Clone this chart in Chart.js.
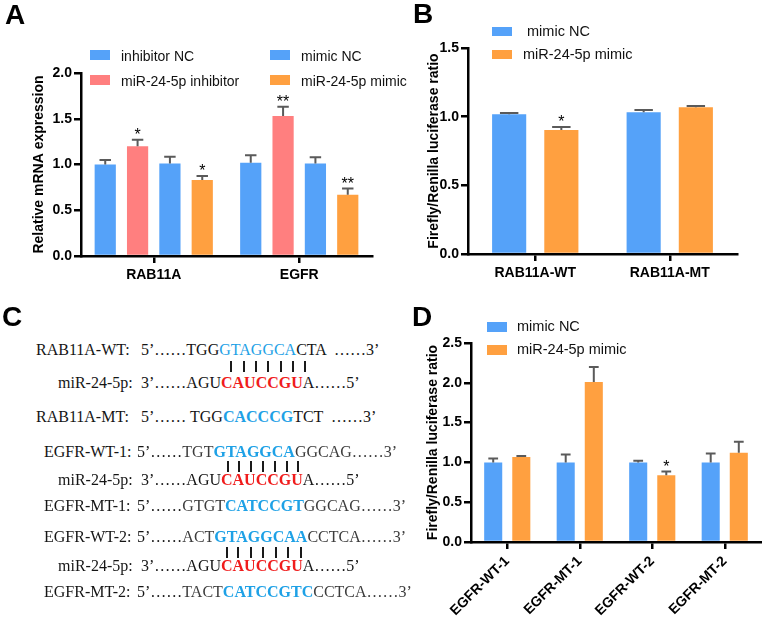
<!DOCTYPE html>
<html>
<head>
<meta charset="utf-8">
<script src="https://cdn.jsdelivr.net/npm/chart.js@4.4.0/dist/chart.umd.min.js"></script>
<style>
body { margin: 0; width: 762px; height: 617px; position: relative; background: #fff; overflow: hidden; font-family: "Liberation Sans", Arial, sans-serif; }
canvas { position: absolute; }
.panel { position: absolute; font-weight: bold; font-size: 28px; line-height: 28px; color: #000; }
.sw { position: absolute; width: 20px; height: 10px; }
.lg { position: absolute; font-size: 14px; line-height: 14px; white-space: pre; color: #111; }
.seq { position: absolute; font-family: "Liberation Serif", "Times New Roman", serif; font-size: 16px; line-height: 16px; white-space: pre; color: #151515; }
.b { color: #1ea1e6; font-weight: bold; }
.bl { color: #1ea1e6; }
.r { color: #f01c1c; font-weight: bold; }
.g { color: #3c3c3c; }
.pipe { position: absolute; width: 1.6px; height: 11px; background: #1a1a1a; }
</style>
</head>
<body>

<canvas id="chartA" width="380" height="290" style="left:0;top:0"></canvas>
<canvas id="chartB" width="381" height="290" style="left:381px;top:0"></canvas>
<canvas id="chartD" width="362" height="322" style="left:400px;top:295px"></canvas>

<div class="panel" style="left:5px;top:1px">A</div>
<div class="panel" style="left:413px;top:0px">B</div>
<div class="panel" style="left:2px;top:303px">C</div>
<div class="panel" style="left:412px;top:303px">D</div>

<!-- legend A -->
<div class="sw" style="left:90px;top:50px;background:#55a2f9"></div>
<div class="lg" style="left:121px;top:49px">inhibitor NC</div>
<div class="sw" style="left:90px;top:75px;background:#ff7f7f"></div>
<div class="lg" style="left:121px;top:74px">miR-24-5p inhibitor</div>
<div class="sw" style="left:270px;top:50px;background:#55a2f9"></div>
<div class="lg" style="left:301px;top:49px">mimic NC</div>
<div class="sw" style="left:270px;top:75px;background:#ffa040"></div>
<div class="lg" style="left:301px;top:74px">miR-24-5p mimic</div>

<!-- legend B -->
<div class="sw" style="left:492px;top:27px;height:9px;background:#55a2f9"></div>
<div class="lg" style="left:523px;top:24px;font-size:14.5px"> mimic NC</div>
<div class="sw" style="left:492px;top:50px;height:9px;background:#ffa040"></div>
<div class="lg" style="left:523px;top:47px;font-size:14.5px">miR-24-5p mimic</div>

<!-- legend D -->
<div class="sw" style="left:487px;top:322px;background:#55a2f9"></div>
<div class="lg" style="left:517px;top:319px;font-size:14.5px">mimic NC</div>
<div class="sw" style="left:487px;top:345px;background:#ffa040"></div>
<div class="lg" style="left:517px;top:342px;font-size:14.5px">miR-24-5p mimic</div>

<!-- panel C -->
<div class="seq" style="left:36px;top:342px">RAB11A-WT:</div>
<div class="seq" style="left:141px;top:342px">5’……TGG<span class="bl">GTAGGCA</span>CTA  ……3’</div>
<div class="pipe" style="left:230px;top:361px"></div>
<div class="pipe" style="left:243px;top:361px"></div>
<div class="pipe" style="left:255px;top:361px"></div>
<div class="pipe" style="left:267px;top:361px"></div>
<div class="pipe" style="left:280px;top:361px"></div>
<div class="pipe" style="left:292px;top:361px"></div>
<div class="pipe" style="left:304px;top:361px"></div>
<div class="seq" style="left:58px;top:375px">miR-24-5p:</div>
<div class="seq" style="left:141px;top:375px">3’……AGU<span class="r">CAUCCGU</span>A……5’</div>
<div class="seq" style="left:36px;top:409px">RAB11A-MT:</div>
<div class="seq" style="left:141px;top:409px">5’…… TGG<span class="b">CACCCG</span>TCT  ……3’</div>

<div class="seq" style="left:44px;top:444px">EGFR-WT-1:</div>
<div class="seq" style="left:137px;top:444px">5’……<span class="g">TGT</span><span class="b">GTAGGCA</span><span class="g">GGCAG……3’</span></div>
<div class="pipe" style="left:227px;top:461px"></div>
<div class="pipe" style="left:238px;top:461px"></div>
<div class="pipe" style="left:250px;top:461px"></div>
<div class="pipe" style="left:262px;top:461px"></div>
<div class="pipe" style="left:274px;top:461px"></div>
<div class="pipe" style="left:286px;top:461px"></div>
<div class="pipe" style="left:297px;top:461px"></div>
<div class="seq" style="left:58px;top:472px">miR-24-5p:</div>
<div class="seq" style="left:141px;top:472px">3’……AGU<span class="r">CAUCCGU</span>A……5’</div>
<div class="seq" style="left:44px;top:498px">EGFR-MT-1:</div>
<div class="seq" style="left:137px;top:498px">5’……<span class="g">GTGT</span><span class="b">CATCCGT</span><span class="g">GGCAG……3’</span></div>

<div class="seq" style="left:44px;top:529px">EGFR-WT-2:</div>
<div class="seq" style="left:137px;top:529px">5’……<span class="g">ACT</span><span class="b">GTAGGCAA</span><span class="g">CCTCA……3’</span></div>
<div class="pipe" style="left:226px;top:547px"></div>
<div class="pipe" style="left:237px;top:547px"></div>
<div class="pipe" style="left:250px;top:547px"></div>
<div class="pipe" style="left:262px;top:547px"></div>
<div class="pipe" style="left:275px;top:547px"></div>
<div class="pipe" style="left:287px;top:547px"></div>
<div class="pipe" style="left:300px;top:547px"></div>
<div class="seq" style="left:58px;top:558px">miR-24-5p:</div>
<div class="seq" style="left:141px;top:558px">3’……AGU<span class="r">CAUCCGU</span>A……5’</div>
<div class="seq" style="left:44px;top:584px">EGFR-MT-2:</div>
<div class="seq" style="left:137px;top:584px">5’……<span class="g">TACT</span><span class="b">CATCCGTC</span><span class="g">CCTCA……3’</span></div>

<script>
// ---- panel A: relative mRNA expression ----
var genesA = ['RAB11A', 'EGFR'];
var inhibitorNC = [1.00, 1.02];
var inhibitorNCSd = [0.05, 0.08];
var inhibitor = [1.20, 1.53];
var inhibitorSd = [0.07, 0.10];
var mimicNCA = [1.01, 1.01];
var mimicNCASd = [0.075, 0.07];
var mimicA = [0.83, 0.67];
var mimicASd = [0.045, 0.068];
var inhibitorStars = ['*', '**'];
var mimicAStars = ['*', '**'];

// ---- panel B: RAB11A luciferase ----
var reportersB = ['RAB11A-WT', 'RAB11A-MT'];
var mimicNCB = [1.017, 1.032];
var mimicNCBSd = [0.01, 0.017];
var mimicB = [0.903, 1.068];
var mimicBSd = [0.022, 0.01];
var mimicBStars = ['*', ''];

// ---- panel D: EGFR luciferase ----
var reportersD = ['EGFR-WT-1', 'EGFR-MT-1', 'EGFR-WT-2', 'EGFR-MT-2'];
var mimicNCD = [1.00, 1.00, 1.00, 1.00];
var mimicNCDSd = [0.05, 0.10, 0.02, 0.113];
var mimicD = [1.067, 2.01, 0.837, 1.12];
var mimicDSd = [0.013, 0.19, 0.05, 0.14];
var mimicDStars = ['', '', '*', ''];

var BLUE = '#55a2f9';
var PINK = '#ff7f7f';
var ORANGE = '#ffa040';
var FONT = '"Liberation Sans", Arial, sans-serif';

// error bars (upper only) + significance stars
var errorBars = {
    id: 'errorBars',
    afterDatasetsDraw: function (chart) {
        var ctx = chart.ctx;
        var y = chart.scales.y;
        chart.data.datasets.forEach(function (ds, i) {
            var meta = chart.getDatasetMeta(i);
            meta.data.forEach(function (bar, j) {
                var top = y.getPixelForValue(ds.data[j] + ds.sd[j]);
                var half = bar.width * 0.27;
                ctx.save();
                ctx.strokeStyle = '#5a5a5a';
                ctx.lineWidth = 2;
                ctx.beginPath();
                ctx.moveTo(bar.x, bar.y);
                ctx.lineTo(bar.x, top);
                ctx.moveTo(bar.x - half, top);
                ctx.lineTo(bar.x + half, top);
                ctx.stroke();
                if (ds.stars && ds.stars[j]) {
                    ctx.fillStyle = '#000';
                    ctx.font = '16px ' + FONT;
                    ctx.textAlign = 'center';
                    ctx.textBaseline = 'alphabetic';
                    ctx.fillText(ds.stars[j], bar.x, top + 0.5);
                }
                ctx.restore();
            });
        });
    }
};

function barChart(id, labels, datasets, o) {
    return new Chart(document.getElementById(id), {
        type: 'bar',
        data: { labels: labels, datasets: datasets },
        options: {
            responsive: false,
            animation: false,
            events: [],
            categoryPercentage: o.cat,
            barPercentage: o.bar,
            layout: { padding: { top: o.top, right: o.right, left: 0, bottom: 0 } },
            plugins: { legend: { display: false }, tooltip: { enabled: false } },
            scales: {
                x: {
                    grid: { offset: false, drawOnChartArea: false, color: '#000', lineWidth: 2.5, tickLength: 7 },
                    border: { color: '#000', width: 2.5 },
                    ticks: {
                        color: '#000', font: { family: FONT, size: 14, weight: 'bold' },
                        autoSkip: false, padding: 4,
                        minRotation: o.rot, maxRotation: o.rot
                    },
                    afterFit: function (s) { s.height = o.xh; }
                },
                y: {
                    min: 0, max: o.max,
                    grid: { drawOnChartArea: false, color: '#000', lineWidth: 2.5, tickLength: 7 },
                    border: { color: '#000', width: 2.5 },
                    ticks: {
                        stepSize: 0.5, color: '#000', padding: 2,
                        font: { family: FONT, size: 14, weight: 'bold' },
                        callback: function (v) { return v.toFixed(1); }
                    },
                    title: {
                        display: true, text: o.title, color: '#000',
                        font: { family: FONT, size: 14, weight: 'bold' },
                        padding: { top: o.tpad, bottom: 0 }
                    },
                    afterFit: function (s) { s.width = o.yw; }
                }
            }
        },
        plugins: [errorBars]
    });
}

barChart('chartA', genesA, [
    { label: 'inhibitor NC', data: inhibitorNC, sd: inhibitorNCSd, backgroundColor: BLUE },
    { label: 'miR-24-5p inhibitor', data: inhibitor, sd: inhibitorSd, stars: inhibitorStars, backgroundColor: PINK },
    { label: 'mimic NC', data: mimicNCA, sd: mimicNCASd, backgroundColor: BLUE },
    { label: 'miR-24-5p mimic', data: mimicA, sd: mimicASd, stars: mimicAStars, backgroundColor: ORANGE }
], { cat: 0.889, bar: 0.656, top: 73, right: 8, xh: 34, yw: 81, max: 2, rot: 0,
     title: 'Relative mRNA expression', tpad: 31 });

barChart('chartB', reportersB, [
    { label: 'mimic NC', data: mimicNCB, sd: mimicNCBSd, backgroundColor: BLUE },
    { label: 'miR-24-5p mimic', data: mimicB, sd: mimicBSd, stars: mimicBStars, backgroundColor: ORANGE }
], { cat: 0.776, bar: 0.654, top: 48, right: 25, xh: 36, yw: 87, max: 1.5, rot: 0,
     title: 'Firefly/Renilla luciferase ratio', tpad: 45 });

barChart('chartD', reportersD, [
    { label: 'mimic NC', data: mimicNCD, sd: mimicNCDSd, backgroundColor: BLUE },
    { label: 'miR-24-5p mimic', data: mimicD, sd: mimicDSd, stars: mimicDStars, backgroundColor: ORANGE }
], { cat: 0.775, bar: 0.643, top: 48, right: 1, xh: 75, yw: 71, max: 2.5, rot: 45,
     title: 'Firefly/Renilla luciferase ratio', tpad: 25 });
</script>
</body>
</html>
